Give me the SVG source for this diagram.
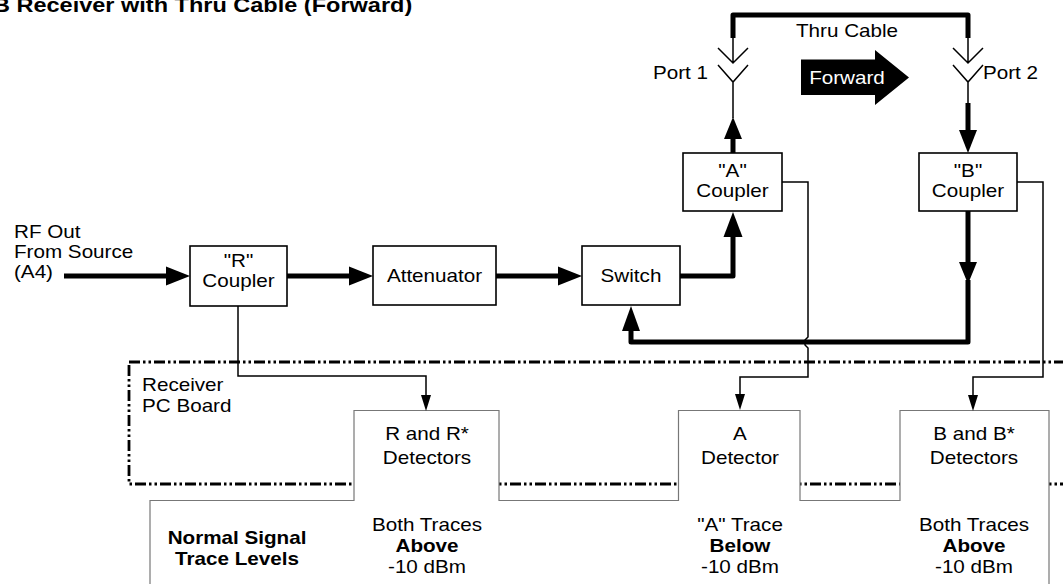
<svg xmlns="http://www.w3.org/2000/svg" width="1063" height="584" viewBox="0 0 1063 584">
<style>
text{font-family:"Liberation Sans",Arial,Helvetica,sans-serif;font-size:17.5px;fill:#000}
.c{text-anchor:middle}
.e{text-anchor:end}
.b{font-weight:bold}
.box{fill:#fff;stroke:#000;stroke-width:1.6}
.thick{fill:none;stroke:#000;stroke-width:5;stroke-linejoin:round}
.thin{fill:none;stroke:#000;stroke-width:1.5}
.ah{fill:#000;stroke:none}
</style>
<rect width="1063" height="584" fill="#fff"/>
<text class="b" style="font-size:21px" transform="translate(-7,12) scale(1.12,1)">B Receiver with Thru Cable (Forward)</text>

<g id="pcboard">
<rect x="129" y="362" width="960" height="122" fill="none" stroke="#000" stroke-width="2.8" stroke-dasharray="11,3,2.5,3,2.5,3"/>
<text transform="translate(142,391) scale(1.18,1)">Receiver</text>
<text transform="translate(142,412) scale(1.18,1)">PC Board</text>
</g>

<g id="panel">
<path d="M150,600 V500.5 H354 V410.5 H499 V500.5 H678.5 V410.5 H800 V500.5 H900 V410.5 H1049 V600" fill="#fff" stroke="#777" stroke-width="1.2"/>
<text class="b c" transform="translate(237,544) scale(1.18,1)">Normal Signal</text>
<text class="b c" transform="translate(237,565) scale(1.18,1)">Trace Levels</text>
</g>

<g id="connectors">
<path class="thick" d="M733,38 V15 H968 V38"/>
<path class="thin" d="M733,38 V63 M718,48 L733,63 L748,48 M718,65 L733,82 L748,65 M733,82 V118"/>
<path class="thin" d="M968,38 V63 M953,48 L968,63 L983,48 M953,65 L968,82 L983,65 M968,82 V104"/>
<path class="thick" d="M733,153 V135"/>
<polygon class="ah" points="733,117 724,139 742,139"/>
<path class="thick" d="M968,103 V133"/>
<polygon class="ah" points="968,153 959,130 977,130"/>
<path class="thick" d="M64,276 H168"/>
<polygon class="ah" points="190,276 166,266.5 166,285.5"/>
<path class="thick" d="M287,276 H352"/>
<polygon class="ah" points="373,276 349,266.5 349,285.5"/>
<path class="thick" d="M496,276 H561"/>
<polygon class="ah" points="582,276 558,266.5 558,285.5"/>
<path class="thick" d="M680,276 H733 V234"/>
<polygon class="ah" points="733,212 723.5,237 742.5,237"/>
<path class="thick" d="M968,211 V265"/>
<polygon class="ah" points="968,284 959,262 977,262"/>
<path class="thick" d="M968,280 V342 H631 V328"/>
<polygon class="ah" points="631,306 622,331 640,331"/>
<path class="thin" d="M238,306 V376 H426 V397"/>
<polygon class="ah" points="426,411 421,395 431,395"/>
<path class="thin" d="M782,182 H808 V337 L805,340 V345 L808,348 V377 H740 V396"/>
<polygon class="ah" points="740,410 735,394 745,394"/>
<path class="thin" d="M1017,182 H1043 V377 H973 V397"/>
<polygon class="ah" points="973,411 968,395 978,395"/>
</g>

<g id="forward">
<polygon points="801,59.5 875,59.5 875,50 909,77.5 875,105 875,95 801,95" fill="#000"/>
<text class="c" style="fill:#fff" transform="translate(847,83.5) scale(1.18,1)">Forward</text>
</g>

<g id="labels">
<text class="c" transform="translate(847,37) scale(1.18,1)">Thru Cable</text>
<text class="e" transform="translate(708,79) scale(1.18,1)">Port 1</text>
<text transform="translate(983,79) scale(1.18,1)">Port 2</text>
<text transform="translate(14,238) scale(1.18,1)">RF Out</text>
<text transform="translate(14,258) scale(1.18,1)">From Source</text>
<text transform="translate(14,278) scale(1.18,1)">(A4)</text>
</g>

<g id="r-coupler">
<rect class="box" x="190" y="246" width="97" height="60"/>
<text class="c" transform="translate(238.5,267) scale(1.18,1)">"R"</text>
<text class="c" transform="translate(238.5,287) scale(1.18,1)">Coupler</text>
</g>
<g id="attenuator">
<rect class="box" x="373" y="246" width="123" height="59"/>
<text class="c" transform="translate(434.5,282) scale(1.18,1)">Attenuator</text>
</g>
<g id="switch">
<rect class="box" x="582" y="246" width="98" height="59"/>
<text class="c" transform="translate(631,282) scale(1.18,1)">Switch</text>
</g>
<g id="a-coupler">
<rect class="box" x="683" y="153" width="99" height="58"/>
<text class="c" transform="translate(732.5,177) scale(1.18,1)">"A"</text>
<text class="c" transform="translate(732.5,197) scale(1.18,1)">Coupler</text>
</g>
<g id="b-coupler">
<rect class="box" x="919" y="153" width="98" height="58"/>
<text class="c" transform="translate(968,177) scale(1.18,1)">"B"</text>
<text class="c" transform="translate(968,197) scale(1.18,1)">Coupler</text>
</g>

<g id="r-detectors">
<text class="c" transform="translate(427,440) scale(1.18,1)">R and R*</text>
<text class="c" transform="translate(427,464) scale(1.18,1)">Detectors</text>
<text class="c" transform="translate(427,531) scale(1.18,1)">Both Traces</text>
<text class="c b" transform="translate(427,552) scale(1.18,1)">Above</text>
<text class="c" transform="translate(427,573) scale(1.18,1)">-10 dBm</text>
</g>
<g id="a-detector">
<text class="c" transform="translate(740,440) scale(1.18,1)">A</text>
<text class="c" transform="translate(740,464) scale(1.18,1)">Detector</text>
<text class="c" transform="translate(740,531) scale(1.18,1)">"A" Trace</text>
<text class="c b" transform="translate(740,552) scale(1.18,1)">Below</text>
<text class="c" transform="translate(740,573) scale(1.18,1)">-10 dBm</text>
</g>
<g id="b-detectors">
<text class="c" transform="translate(974,440) scale(1.18,1)">B and B*</text>
<text class="c" transform="translate(974,464) scale(1.18,1)">Detectors</text>
<text class="c" transform="translate(974,531) scale(1.18,1)">Both Traces</text>
<text class="c b" transform="translate(974,552) scale(1.18,1)">Above</text>
<text class="c" transform="translate(974,573) scale(1.18,1)">-10 dBm</text>
</g>
</svg>
